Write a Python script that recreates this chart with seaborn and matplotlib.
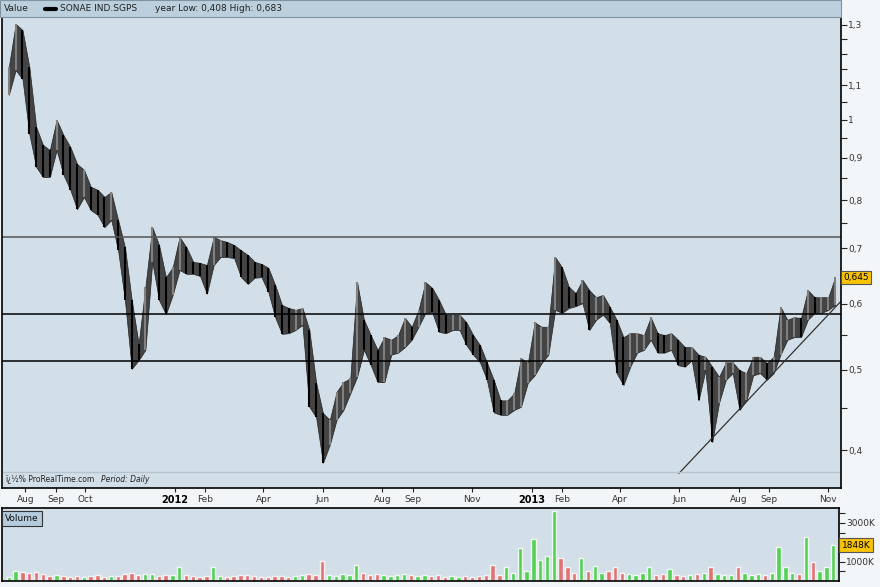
import pandas as pd
import matplotlib
matplotlib.use('Agg')
import matplotlib.pyplot as plt
from matplotlib.patches import Rectangle
from matplotlib.lines import Line2D
from matplotlib.ticker import FixedLocator, NullFormatter
import seaborn as sns

# weekly price ranges (SONAE IND.SGPS, Jul 2011 - Nov 2013)
week_start = '2011-07-15'
high = [1.157, 1.304, 1.282, 1.157, 0.980, 0.932, 0.919, 0.999, 0.958, 0.927,
        0.884, 0.870, 0.830, 0.823, 0.807, 0.818, 0.757, 0.702, 0.606, 0.537,
        0.629, 0.742, 0.706, 0.646, 0.664, 0.722, 0.702, 0.674, 0.672, 0.668,
        0.722, 0.716, 0.712, 0.706, 0.696, 0.687, 0.674, 0.670, 0.663, 0.632,
        0.598, 0.593, 0.590, 0.593, 0.558, 0.482, 0.443, 0.435, 0.470, 0.483,
        0.488, 0.637, 0.574, 0.550, 0.528, 0.547, 0.543, 0.550, 0.577, 0.563,
        0.590, 0.637, 0.627, 0.606, 0.582, 0.582, 0.582, 0.570, 0.550, 0.535,
        0.510, 0.486, 0.459, 0.459, 0.468, 0.516, 0.509, 0.570, 0.563, 0.563,
        0.683, 0.664, 0.629, 0.618, 0.641, 0.623, 0.611, 0.615, 0.595, 0.574,
        0.547, 0.553, 0.553, 0.550, 0.578, 0.553, 0.550, 0.553, 0.543, 0.532,
        0.532, 0.521, 0.518, 0.504, 0.490, 0.510, 0.510, 0.499, 0.495, 0.518,
        0.518, 0.509, 0.518, 0.595, 0.574, 0.578, 0.577, 0.623, 0.611, 0.611,
        0.611, 0.646]
low = [1.071, 1.147, 1.119, 0.961, 0.877, 0.853, 0.853, 0.919, 0.858, 0.823,
       0.780, 0.807, 0.778, 0.768, 0.742, 0.757, 0.696, 0.606, 0.501, 0.513,
       0.528, 0.674, 0.606, 0.583, 0.615, 0.659, 0.652, 0.652, 0.648, 0.617,
       0.668, 0.683, 0.683, 0.681, 0.646, 0.634, 0.645, 0.646, 0.620, 0.578,
       0.552, 0.553, 0.558, 0.566, 0.451, 0.438, 0.386, 0.406, 0.435, 0.447,
       0.468, 0.490, 0.528, 0.506, 0.483, 0.483, 0.521, 0.524, 0.532, 0.543,
       0.563, 0.585, 0.586, 0.555, 0.553, 0.558, 0.558, 0.535, 0.521, 0.510,
       0.486, 0.444, 0.441, 0.441, 0.447, 0.451, 0.482, 0.492, 0.509, 0.521,
       0.590, 0.585, 0.593, 0.596, 0.601, 0.558, 0.574, 0.582, 0.569, 0.495,
       0.479, 0.504, 0.524, 0.528, 0.543, 0.524, 0.524, 0.528, 0.506, 0.504,
       0.513, 0.459, 0.499, 0.409, 0.456, 0.486, 0.495, 0.447, 0.459, 0.492,
       0.495, 0.486, 0.495, 0.521, 0.543, 0.547, 0.547, 0.574, 0.585, 0.585,
       0.590, 0.598]
volume_k = [200, 500, 450, 400, 450, 350, 250, 300, 250, 200,
            250, 200, 250, 300, 200, 250, 250, 350, 400, 300,
            350, 350, 250, 300, 300, 700, 300, 250, 200, 250,
            700, 250, 200, 250, 300, 300, 250, 200, 200, 250,
            250, 200, 250, 300, 350, 300, 1050, 300, 250, 350,
            300, 850, 400, 300, 350, 300, 250, 300, 350, 300,
            250, 300, 250, 300, 200, 250, 200, 250, 200, 250,
            300, 850, 300, 700, 400, 1700, 500, 2180, 1100, 1300,
            3600, 1200, 700, 400, 1200, 500, 800, 400, 500, 700,
            400, 350, 300, 400, 700, 300, 350, 600, 300, 250,
            300, 350, 400, 700, 350, 300, 300, 700, 400, 300,
            350, 300, 400, 1780, 700, 400, 350, 2280, 1000, 500,
            700, 1848]

level_lines = [0.722, 0.583, 0.512]
trend_dates = ['2013-06-01', '2013-11-15']
trend_values = [0.375, 0.606]
last_price = 0.645
last_volume = 1848

price_ticks = [0.4, 0.5, 0.6, 0.7, 0.8, 0.9, 1.0, 1.1, 1.3]
price_labels = ['0,4', '0,5', '0,6', '0,7', '0,8', '0,9', '1', '1,1', '1,3']
price_minor = [0.45, 0.55, 0.65, 0.75, 0.85, 0.95, 1.05, 1.15, 1.2, 1.25]
month_ticks = ['2011-08-01', '2011-09-01', '2011-10-01', '2012-01-01', '2012-02-01',
               '2012-04-01', '2012-06-01', '2012-08-01', '2012-09-01', '2012-11-01',
               '2013-01-01', '2013-02-01', '2013-04-01', '2013-06-01', '2013-08-01',
               '2013-09-01', '2013-11-01']
month_labels = ['Aug', 'Sep', 'Oct', '2012', 'Feb', 'Apr', 'Jun', 'Aug', 'Sep', 'Nov',
                '2013', 'Feb', 'Apr', 'Jun', 'Aug', 'Sep', 'Nov']
vol_ticks = [500, 1000, 1500, 2000, 2500, 3000, 3500]
vol_labels = ['', '1000K', '', '', '', '3000K', '']

sns.set_theme(style='white', rc={'axes.facecolor': '#d3dfe8',
                                 'figure.facecolor': '#f3f6f9',
                                 'axes.edgecolor': 'black'})
plt.rcParams['font.family'] = ['DejaVu Sans']

df = pd.DataFrame({'date': pd.date_range(week_start, periods=len(high), freq='7D'),
                   'high': high, 'low': low, 'volume': volume_k})
df['mid'] = (df['high'] + df['low']) / 2
df['up'] = df['mid'].diff().fillna(0) >= 0

W, H = 880, 587
fig = plt.figure(figsize=(W / 100, H / 100), dpi=100)
ax = fig.add_axes([2 / W, (H - 488) / H, 839 / W, 471 / H])
axv = fig.add_axes([2 / W, (H - 581) / H, 837 / W, 73 / H])

xmin, xmax = pd.Timestamp('2011-07-08'), pd.Timestamp('2013-11-14')

# price: range band plus weekly bars
ax.fill_between(df['date'], df['low'], df['high'], color='#444444', lw=0.5,
                edgecolor='#222222')
colors = ['#808080' if u else '#000000' for u in df['up']]
ax.vlines(df['date'], df['low'], df['high'], colors=colors, lw=1.5)
ax.set_yscale('log')
ax.set_ylim(0.360, 1.329)
ax.set_xlim(xmin, xmax)

for i, lv in enumerate(level_lines):
    ax.axhline(lv, color='#555555' if i == 0 else 'black', lw=1.1)
sns.lineplot(x=pd.to_datetime(trend_dates), y=trend_values, ax=ax, color='#333333', lw=0.9)
ax.plot([0, 1], [0.034, 0.034], transform=ax.transAxes, color='#b8c3cc', lw=1)

ax.yaxis.tick_right()
ax.yaxis.set_major_locator(FixedLocator(price_ticks))
ax.yaxis.set_minor_locator(FixedLocator(price_minor))
ax.set_yticklabels(price_labels)
ax.yaxis.set_minor_formatter(NullFormatter())
ax.tick_params(axis='y', which='both', direction='out', length=4, width=0.8,
               labelsize=6.5, labelcolor='#333333', pad=1, right=True, left=False)
ax.set_xticks(pd.to_datetime(month_ticks))
ax.set_xticklabels(month_labels)
ax.tick_params(axis='x', direction='out', length=3, width=0.8, labelsize=6.5,
               labelcolor='#333333', pad=2, bottom=True)
for t in ax.get_xticklabels():
    if t.get_text().startswith('20'):
        t.set_fontweight('bold')
        t.set_color('black')
        t.set_fontsize(7)
for s in ax.spines.values():
    s.set_linewidth(1.2)
ax.set_xlabel('')
ax.set_ylabel('')

ax.text(0.004, 0.017, 'ï¿½% ProRealTime.com', transform=ax.transAxes, fontsize=5.5,
        color='#222222', va='center')
ax.text(0.118, 0.017, 'Period: Daily', transform=ax.transAxes, fontsize=5.5,
        color='#222222', va='center', style='italic')
ax.text(1.003, last_price, '0,645', transform=ax.get_yaxis_transform(), fontsize=6.5,
        va='center', ha='left', color='black',
        bbox=dict(boxstyle='square,pad=0.25', fc='#f8c400', ec='#555555', lw=0.8))

# volume
vcol = ['#3fcf3f' if u else '#e46060' for u in df['up']]
axv.bar(df['date'], df['volume'], width=4.5, color=vcol, alpha=0.85)
axv.set_xlim(xmin, xmax)
axv.set_ylim(0, 3770)
axv.set_xticks([])
axv.yaxis.tick_right()
axv.set_yticks(vol_ticks)
axv.set_yticklabels(vol_labels)
axv.tick_params(axis='y', direction='out', length=4, width=0.8, labelsize=6.5,
                labelcolor='#333333', pad=1, right=True, left=False)
for s in axv.spines.values():
    s.set_linewidth(1.2)
axv.text(1.003, last_volume, '1848K', transform=axv.get_yaxis_transform(), fontsize=6.5,
         va='center', ha='left', color='black',
         bbox=dict(boxstyle='square,pad=0.25', fc='#f8c400', ec='#555555', lw=0.8))
axv.text(0.004, 0.86, 'Volume', transform=axv.transAxes, fontsize=6.5, va='center',
         color='#111111',
         bbox=dict(boxstyle='square,pad=0.35', fc='#b3cbdc', ec='#333333', lw=0.8))

# header strip
fig.patches.append(Rectangle((0, (H - 17) / H), 841 / W, 17 / H, transform=fig.transFigure,
                             fc='#bccfdd', ec='#7f93a3', lw=0.8))
fig.text(4 / W, (H - 8.5) / H, 'Value', fontsize=6.5, va='center', color='#222222')
fig.lines.append(Line2D([45 / W, 56 / W], [(H - 8.5) / H] * 2, transform=fig.transFigure,
                        color='black', lw=3))
fig.text(60 / W, (H - 8.5) / H, 'SONAE IND.SGPS', fontsize=6.5, va='center', color='#222222')
fig.text(155 / W, (H - 8.5) / H, 'year Low: 0,408 High: 0,683', fontsize=6.5, va='center',
         color='#222222')

fig.savefig('out.png', dpi=100, facecolor=fig.get_facecolor())
